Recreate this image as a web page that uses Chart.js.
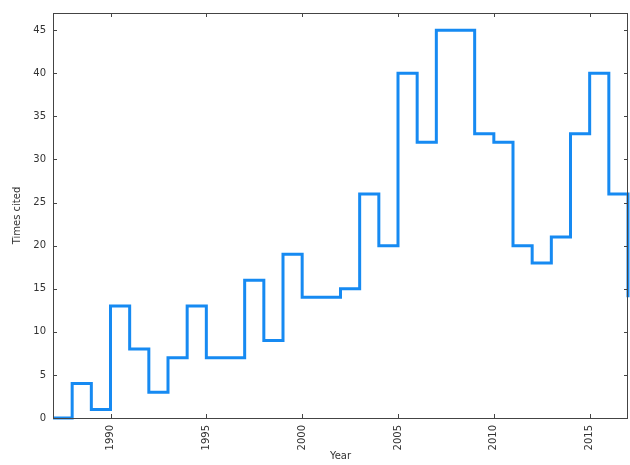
<!DOCTYPE html>
<html>
<head>
<meta charset="utf-8">
<script src="https://cdn.jsdelivr.net/npm/chart.js@4"></script>
<style>
    html, body { margin: 0; padding: 0; background: #fff; }
    #wrap { width: 630px; height: 465px; }
</style>
</head>
<body>
<div id="wrap"><canvas id="chart"></canvas></div>
<script>
// citation counts per year (gnuplot-style steps)
const years = [1987, 1988, 1989, 1990, 1991, 1992, 1993, 1994, 1995, 1996, 1997, 1998, 1999, 2000, 2001,
    2002, 2003, 2004, 2005, 2006, 2007, 2008, 2009, 2010, 2011, 2012, 2013, 2014, 2015, 2016, 2017];
const timesCited = [0, 4, 1, 13, 8, 3, 7, 13, 7, 7, 16, 9, 19, 14, 14,
    15, 26, 20, 40, 32, 45, 45, 33, 32, 20, 18, 21, 33, 40, 26, 14];

const xTicks = [1990, 1995, 2000, 2005, 2010, 2015];
const yTicks = [0, 5, 10, 15, 20, 25, 30, 35, 40, 45];

const axisColor = "#444";
const textColor = "#333";
const font = { family: "DejaVu Sans", size: 10 };

// box around the plot + inward ticks on all four sides
const boxTicks = {
    id: "boxTicks",
    afterDraw(chart) {
        const { ctx, chartArea: a, scales } = chart;
        const len = 4;
        ctx.save();
        ctx.strokeStyle = axisColor;
        ctx.lineWidth = 1;
        ctx.beginPath();
        xTicks.forEach((v) => {
            const x = Math.round(scales.x.getPixelForValue(v)) + 0.5;
            ctx.moveTo(x, a.bottom);
            ctx.lineTo(x, a.bottom - len);
            ctx.moveTo(x, a.top);
            ctx.lineTo(x, a.top + len);
        });
        yTicks.forEach((v) => {
            const y = Math.round(scales.y.getPixelForValue(v)) + 0.5;
            ctx.moveTo(a.left, y);
            ctx.lineTo(a.left + len, y);
            ctx.moveTo(a.right, y);
            ctx.lineTo(a.right - len, y);
        });
        ctx.stroke();
        ctx.strokeRect(Math.round(a.left) + 0.5, Math.round(a.top) + 0.5,
            Math.round(a.right - a.left) - 1, Math.round(a.bottom - a.top));
        ctx.restore();
    },
};

new Chart(document.getElementById("chart"), {
    type: "line",
    data: {
        datasets: [
            {
                data: years.map((y, i) => ({ x: y, y: timesCited[i] })),
                stepped: true,
                borderColor: "#168af2",
                borderWidth: 3,
                pointRadius: 0,
                fill: false,
                clip: { left: 2, top: 2, right: 3, bottom: 2 },
            },
        ],
    },
    options: {
        responsive: true,
        maintainAspectRatio: false,
        animation: false,
        layout: { padding: { top: 11, right: 2, left: 0, bottom: 0 } },
        plugins: {
            legend: { display: false },
            tooltip: { enabled: false },
        },
        scales: {
            x: {
                type: "linear",
                min: 1987,
                max: 2017,
                afterBuildTicks: (scale) => {
                    scale.ticks = xTicks.map((v) => ({ value: v }));
                },
                afterFit: (scale) => {
                    scale.height = 47;
                },
                grid: { display: false, drawTicks: false },
                border: { display: false },
                ticks: {
                    minRotation: 90,
                    maxRotation: 90,
                    padding: 7,
                    color: textColor,
                    font: font,
                    callback: (v) => String(v),
                },
                title: {
                    display: true,
                    text: "Year",
                    color: textColor,
                    font: font,
                    padding: { top: 0, bottom: 3 },
                },
            },
            y: {
                min: 0,
                max: 47,
                afterBuildTicks: (scale) => {
                    scale.ticks = yTicks.map((v) => ({ value: v }));
                },
                afterFit: (scale) => {
                    scale.width = 53;
                },
                grid: { display: false, drawTicks: false },
                border: { display: false },
                ticks: {
                    padding: 7,
                    color: textColor,
                    font: font,
                },
                title: {
                    display: true,
                    text: "Times cited",
                    color: textColor,
                    font: font,
                    padding: { top: 11, bottom: 4 },
                },
            },
        },
    },
    plugins: [boxTicks],
});
</script>
</body>
</html>
